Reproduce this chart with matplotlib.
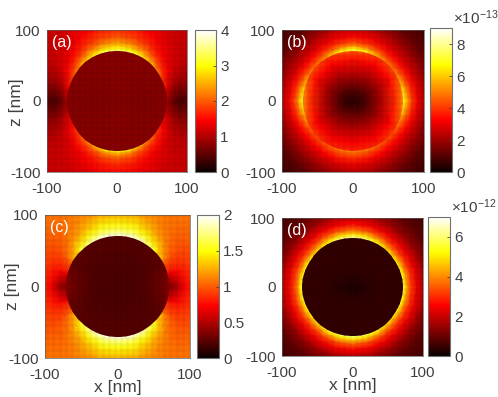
#!/usr/bin/python3
#
# Four field maps around a 71 nm sphere, hot colormap, one colorbar each.

import numpy as np
import matplotlib
matplotlib.use("Agg")
import matplotlib.pyplot as plt

W, H = 498, 397
GREY = "#404040"
SPHERE_R = 71

# polar sampling of the maps, angle 90 = top of the panel, mirrored for x < 0
OUT_ANGLES = [-90, -75, -60, -45, -30, -15, 0, 15, 30, 45, 60, 75, 90]
OUT_RADII = [71, 74, 78, 84, 92, 105, 120, 145]
IN_ANGLES = [-90, -60, -30, 0, 30, 60, 90]
IN_RADII = [0, 20, 40, 60, 80]

# one row per angle in OUT_ANGLES, one column per radius in OUT_RADII
a_out = [
    [3.1, 2.6, 2.2, 1.9, 1.65, 1.45, 1.3, 1.2],
    [2.9, 2.5, 2.1, 1.8, 1.6, 1.4, 1.25, 1.2],
    [2.5, 2.2, 1.9, 1.65, 1.45, 1.3, 1.2, 1.15],
    [2.1, 1.9, 1.7, 1.5, 1.3, 1.2, 1.15, 1.15],
    [1.6, 1.5, 1.4, 1.25, 1.1, 1.05, 1.1, 1.2],
    [1.2, 1.1, 1.0, 0.85, 0.75, 0.8, 1.0, 1.1],
    [0.9, 0.75, 0.6, 0.45, 0.35, 0.5, 0.8, 1.0],
    [1.4, 1.3, 1.1, 0.9, 0.8, 0.85, 1.0, 1.1],
    [2.0, 1.8, 1.6, 1.4, 1.2, 1.1, 1.1, 1.2],
    [2.6, 2.3, 2.0, 1.7, 1.45, 1.25, 1.15, 1.15],
    [3.1, 2.7, 2.4, 2.0, 1.7, 1.45, 1.3, 1.2],
    [3.4, 3.0, 2.6, 2.2, 1.85, 1.6, 1.4, 1.25],
    [3.5, 3.1, 2.7, 2.3, 1.95, 1.65, 1.45, 1.3],
]
b_out = [
    [5.2, 4.7, 4.2, 3.6, 2.9, 2.2, 1.4, 0.9],
    [5.0, 4.6, 4.1, 3.5, 2.8, 2.0, 1.3, 0.8],
    [4.7, 4.3, 3.9, 3.3, 2.7, 1.9, 1.2, 0.7],
    [4.4, 4.1, 3.7, 3.2, 2.6, 1.8, 1.1, 0.6],
    [4.8, 4.4, 3.9, 3.3, 2.6, 1.8, 1.1, 0.7],
    [5.8, 5.2, 4.5, 3.6, 2.8, 1.8, 1.2, 0.8],
    [7.2, 6.4, 5.2, 4.0, 3.0, 1.9, 1.3, 0.9],
    [6.2, 5.6, 4.7, 3.7, 2.9, 1.9, 1.2, 0.8],
    [5.2, 4.8, 4.2, 3.5, 2.7, 1.9, 1.2, 0.7],
    [4.9, 4.5, 4.0, 3.4, 2.7, 1.9, 1.2, 0.7],
    [5.6, 5.1, 4.4, 3.6, 2.9, 2.1, 1.3, 0.8],
    [6.8, 6.1, 4.9, 3.9, 3.1, 2.3, 1.5, 0.9],
    [7.4, 6.7, 5.2, 4.1, 3.2, 2.4, 1.7, 1.2],
]
c_out = [
    [1.95, 1.85, 1.7, 1.55, 1.4, 1.22, 1.15, 1.1],
    [1.95, 1.85, 1.7, 1.55, 1.4, 1.22, 1.15, 1.1],
    [1.85, 1.75, 1.6, 1.42, 1.28, 1.15, 1.1, 1.1],
    [1.6, 1.5, 1.38, 1.25, 1.12, 1.05, 1.05, 1.1],
    [1.15, 1.1, 1.05, 0.98, 0.95, 0.95, 1.0, 1.05],
    [0.7, 0.7, 0.7, 0.75, 0.8, 0.9, 1.0, 1.05],
    [0.3, 0.33, 0.38, 0.5, 0.7, 0.85, 0.95, 1.05],
    [0.7, 0.7, 0.7, 0.75, 0.8, 0.9, 1.0, 1.05],
    [1.15, 1.1, 1.05, 0.98, 0.95, 0.95, 1.0, 1.05],
    [1.6, 1.5, 1.38, 1.25, 1.12, 1.05, 1.05, 1.1],
    [1.85, 1.75, 1.6, 1.42, 1.28, 1.15, 1.1, 1.1],
    [1.95, 1.85, 1.7, 1.55, 1.4, 1.22, 1.15, 1.1],
    [1.95, 1.85, 1.7, 1.55, 1.4, 1.22, 1.15, 1.1],
]
d_out = [
    [6.3, 5.5, 4.5, 3.4, 2.5, 1.6, 1.1, 0.6],
    [6.1, 5.3, 4.4, 3.3, 2.5, 1.5, 1.0, 0.6],
    [5.5, 4.9, 4.1, 3.1, 2.4, 1.5, 0.9, 0.55],
    [5.0, 4.5, 3.8, 3.0, 2.3, 1.4, 0.9, 0.55],
    [5.3, 4.7, 3.9, 3.0, 2.3, 1.4, 0.9, 0.55],
    [5.8, 5.0, 4.0, 3.1, 2.3, 1.5, 1.0, 0.6],
    [6.2, 5.2, 4.0, 3.1, 2.3, 1.5, 1.0, 0.6],
    [5.8, 5.0, 4.0, 3.1, 2.3, 1.5, 1.0, 0.6],
    [5.3, 4.7, 3.9, 3.0, 2.3, 1.4, 0.9, 0.55],
    [5.0, 4.5, 3.8, 3.0, 2.3, 1.4, 0.9, 0.55],
    [5.5, 5.0, 4.2, 3.2, 2.4, 1.5, 1.0, 0.55],
    [6.2, 5.5, 4.5, 3.4, 2.5, 1.6, 1.1, 0.6],
    [6.5, 5.7, 4.6, 3.5, 2.6, 1.6, 1.1, 0.6],
]

# one row per angle in IN_ANGLES, one column per radius in IN_RADII
a_in = [
    [0.72, 0.74, 0.74, 0.74, 0.76],
    [0.72, 0.74, 0.74, 0.74, 0.76],
    [0.72, 0.72, 0.72, 0.74, 0.76],
    [0.72, 0.7, 0.7, 0.72, 0.74],
    [0.72, 0.72, 0.72, 0.74, 0.76],
    [0.72, 0.74, 0.74, 0.74, 0.76],
    [0.72, 0.74, 0.74, 0.74, 0.76],
]
b_in = [
    [0.3, 1.3, 2.3, 3.3, 4.2],
    [0.3, 1.2, 2.2, 3.2, 4.0],
    [0.3, 1.05, 2.1, 3.3, 4.6],
    [0.3, 1.0, 2.2, 3.9, 6.2],
    [0.3, 1.05, 2.1, 3.4, 4.8],
    [0.3, 1.2, 2.2, 3.3, 4.3],
    [0.3, 1.3, 2.4, 3.5, 5.2],
]
c_in = [
    [0.2, 0.2, 0.21, 0.22, 0.22],
    [0.2, 0.2, 0.21, 0.22, 0.22],
    [0.2, 0.2, 0.21, 0.24, 0.26],
    [0.2, 0.2, 0.22, 0.3, 0.4],
    [0.2, 0.2, 0.21, 0.24, 0.26],
    [0.2, 0.2, 0.21, 0.22, 0.22],
    [0.2, 0.2, 0.21, 0.22, 0.22],
]
d_in = [
    [0.2, 0.4, 0.42, 0.42, 0.42],
    [0.2, 0.4, 0.42, 0.42, 0.42],
    [0.2, 0.36, 0.42, 0.42, 0.42],
    [0.2, 0.32, 0.42, 0.42, 0.42],
    [0.2, 0.36, 0.42, 0.42, 0.42],
    [0.2, 0.4, 0.42, 0.42, 0.42],
    [0.2, 0.4, 0.42, 0.42, 0.42],
]

LETTERS = ["(a)", "(b)", "(c)", "(d)"]
VMAX = [4, 9, 2, 7]
CBAR_TICKS = [[0, 1, 2, 3, 4], [0, 2, 4, 6, 8], [0, 0.5, 1, 1.5, 2], [0, 2, 4, 6]]
CBAR_LABELS = [
    ["0", "1", "2", "3", "4"],
    ["0", "2", "4", "6", "8"],
    ["0", "0.5", "1", "1.5", "2"],
    ["0", "2", "4", "6"],
]
EXPONENTS = [None, "-13", None, "-12"]
AXIS_TICKS = [-100, 0, 100]
AXIS_LABELS = ["-100", "0", "100"]

# pixel boxes: left, right, top, bottom
AX_BOX = [(47, 187, 30, 172), (282, 424, 30, 172), (45, 190, 215, 358), (282, 423, 218, 356)]
CB_BOX = [(195, 216, 30, 172), (430, 452, 28, 172), (197, 219, 215, 358), (428, 450, 217, 356)]

plt.rcParams.update({
    "font.family": ["Liberation Sans", "DejaVu Sans"],
    "font.size": 11,
    "mathtext.default": "regular",
    "axes.linewidth": 0.5,
    "axes.edgecolor": "#606060",
    "xtick.color": GREY,
    "ytick.color": GREY,
    "text.color": GREY,
    "axes.labelcolor": GREY,
})


def add_box(fig, box):
    left, right, top, bottom = box
    return fig.add_axes([left / W, 1 - bottom / H, (right - left) / W, (bottom - top) / H])


def draw_polar(ax, angles, radii, values, vmax, clip=None):
    th = np.radians(angles)
    tt, rr = np.meshgrid(th, radii, indexing="ij")
    vals = np.array(values, dtype=float)
    mesh = None
    for side in (1, -1):
        mesh = ax.pcolormesh(side * rr * np.cos(tt), rr * np.sin(tt), vals,
                             shading="gouraud", cmap="hot", vmin=0, vmax=vmax)
        if clip is not None:
            mesh.set_clip_path(clip)
    return mesh


fig = plt.figure(figsize=(W / 100, H / 100), dpi=100)
outer = [a_out, b_out, c_out, d_out]
inner = [a_in, b_in, c_in, d_in]

for i in range(4):
    ax = add_box(fig, AX_BOX[i])
    mesh = draw_polar(ax, OUT_ANGLES, OUT_RADII, outer[i], VMAX[i])
    disc = plt.Circle((0, 0), SPHERE_R, transform=ax.transData)
    draw_polar(ax, IN_ANGLES, IN_RADII, inner[i], VMAX[i], clip=disc)

    # faint plaid left by the facets of the original surface plot
    for pos in np.arange(-97, 100, 8.5):
        ax.axvline(pos, color="black", alpha=0.035, lw=2, zorder=3)
        ax.axhline(pos, color="black", alpha=0.035, lw=2, zorder=3)

    ax.set_xlim(-100, 100)
    ax.set_ylim(-100, 100)
    ax.set_xticks(AXIS_TICKS, labels=AXIS_LABELS)
    ax.set_yticks(AXIS_TICKS, labels=AXIS_LABELS)
    ax.tick_params(axis="x", direction="in", length=0, pad=7.2)
    ax.tick_params(axis="y", direction="in", length=0, pad=4.5)
    ax.text(-93, 82, LETTERS[i], color="white", ha="left", va="center", fontsize=11.5, zorder=4)
    if i == 0:
        ax.set_ylabel("z [nm]", fontsize=12.5)
        ax.yaxis.set_label_coords(-0.164, 0.49)
    if i == 2:
        ax.set_ylabel("z [nm]", fontsize=12.5)
        ax.yaxis.set_label_coords(-0.172, 0.5)
        ax.set_xlabel("x [nm]", fontsize=12.5)
        ax.xaxis.set_label_coords(0.5, -0.155)
    if i == 3:
        ax.set_xlabel("x [nm]", fontsize=12.5)
        ax.xaxis.set_label_coords(0.5, -0.16)

    cax = add_box(fig, CB_BOX[i])
    cbar = fig.colorbar(mesh, cax=cax)
    cbar.set_ticks(CBAR_TICKS[i], labels=CBAR_LABELS[i])
    cbar.ax.tick_params(direction="in", length=2, width=0.6, pad=3)
    cbar.outline.set_edgecolor("#707070")
    cbar.outline.set_linewidth(0.8)
    if EXPONENTS[i]:
        cax.text(1.03, 1.005, r"$\times$10$^{" + EXPONENTS[i] + "}$",
                 transform=cax.transAxes, ha="left", va="bottom", fontsize=11)

fig.savefig("out.png", dpi=100)
